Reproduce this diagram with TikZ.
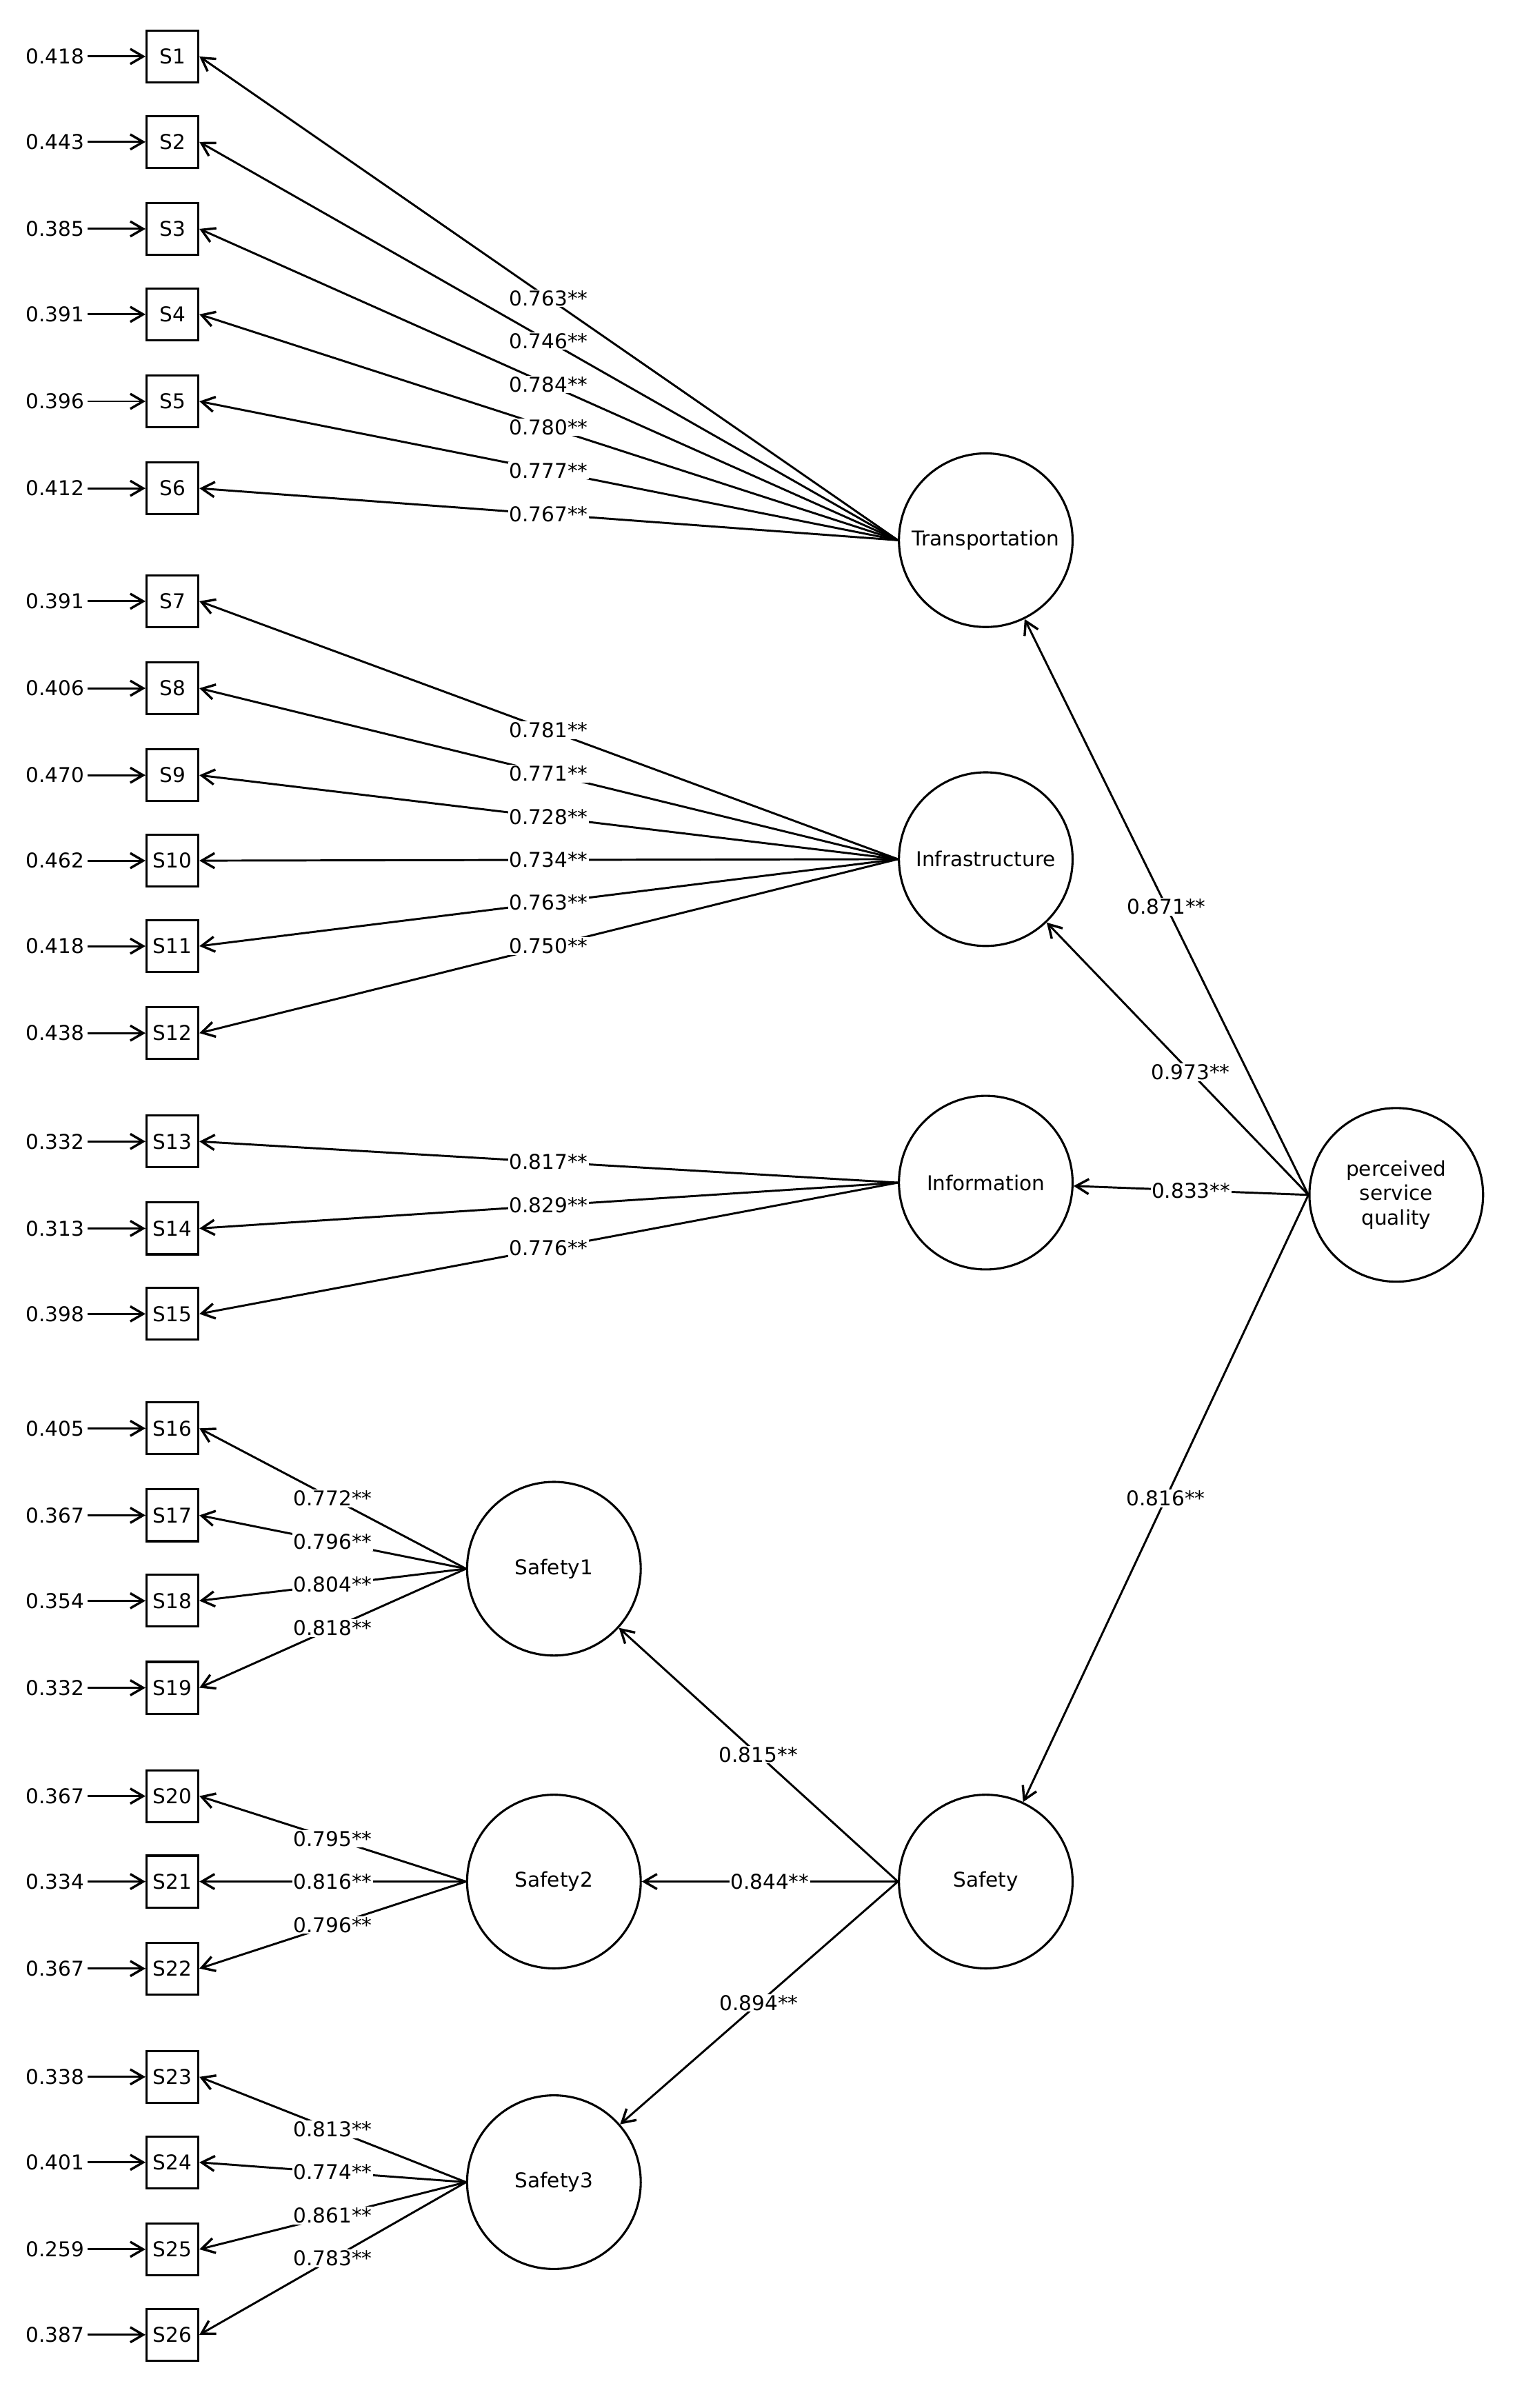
\documentclass[tikz,border=0pt]{standalone}
\usepackage{fontspec}
\setmainfont{DejaVu Sans}
\usetikzlibrary{arrows.meta}
\begin{document}
\begin{tikzpicture}[x=0.05cm,y=-0.05cm,
  every node/.style={font=\fontsize{19}{23}\selectfont},
  box/.style={draw,line width=2pt,minimum width=34*1.42pt,minimum height=34*1.42pt,inner sep=0pt},
  lat/.style={draw,circle,line width=2pt,minimum size=114*1.42pt,inner sep=0pt},
  arr/.style={line width=1.9pt,-{Straight Barb[length=12pt,width=14pt,line width=2.2pt]}},
  lab/.style={fill=white,inner sep=1pt,pos=0.5}]
\useasboundingbox (0,0) rectangle (1000,1578);
\foreach \i/\y/\e in {1/37/0.418,2/93/0.443,3/150/0.385,4/206/0.391,5/263/0.396,6/320/0.412,
7/394/0.391,8/451/0.406,9/508/0.470,10/564/0.462,11/620/0.418,12/677/0.438,
13/748/0.332,14/805/0.313,15/861/0.398,16/936/0.405,17/993/0.367,18/1049/0.354,19/1106/0.332,
20/1177/0.367,21/1233/0.334,22/1290/0.367,23/1361/0.338,24/1417/0.401,25/1474/0.259,26/1530/0.387}{
  \node[box] (s\i) at (113,\y) {S\i};
  \node (e\i) at (36,\y) {\e};
  \draw[arr] (e\i) -- (s\i);
}
\node[lat] (tr) at (646,354) {Transportation};
\node[lat] (inf) at (646,563) {Infrastructure};
\node[lat] (info) at (646,775) {Information};
\node[lat,align=center] (pq) at (915,783) {perceived\\service\\quality};
\node[lat] (saf) at (646,1233) {Safety};
\node[lat] (sa1) at (363,1028) {Safety1};
\node[lat] (sa2) at (363,1233) {Safety2};
\node[lat] (sa3) at (363,1430) {Safety3};
\foreach \c/\i/\v in {tr/1/0.763,tr/2/0.746,tr/3/0.784,tr/4/0.780,tr/5/0.777,tr/6/0.767,
inf/7/0.781,inf/8/0.771,inf/9/0.728,inf/10/0.734,inf/11/0.763,inf/12/0.750,
info/13/0.817,info/14/0.829,info/15/0.776,
sa1/16/0.772,sa1/17/0.796,sa1/18/0.804,sa1/19/0.818,
sa2/20/0.795,sa2/21/0.816,sa2/22/0.796,
sa3/23/0.813,sa3/24/0.774,sa3/25/0.861,sa3/26/0.783}{
  \draw[arr] (\c.west) -- (s\i.east) node[lab] {\v**};
}
\draw[arr] (pq.west) -- (tr) node[lab] {0.871**};
\draw[arr] (pq.west) -- (inf) node[lab,pos=0.45] {0.973**};
\draw[arr] (pq.west) -- (info) node[lab] {0.833**};
\draw[arr] (pq.west) -- (saf) node[lab] {0.816**};
\draw[arr] (saf.west) -- (sa1) node[lab] {0.815**};
\draw[arr] (saf.west) -- (sa2) node[lab] {0.844**};
\draw[arr] (saf.west) -- (sa3) node[lab] {0.894**};
\end{tikzpicture}
\end{document}
